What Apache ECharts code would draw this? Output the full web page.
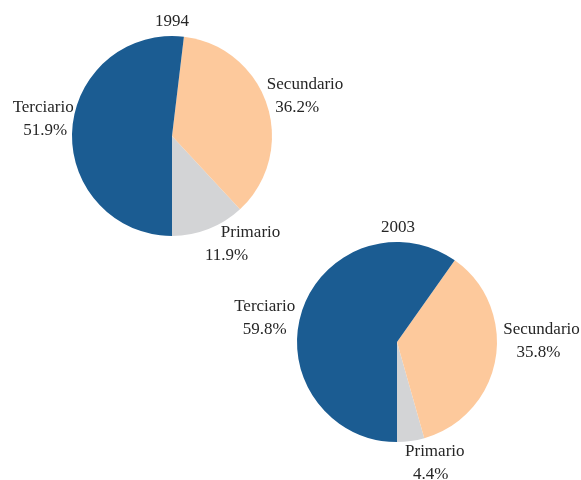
<!DOCTYPE html>
<html>
<head>
<meta charset="utf-8">
<script src="https://cdn.jsdelivr.net/npm/echarts@6/dist/echarts.min.js"></script>
<style>html,body{margin:0;padding:0;background:#fff;}#c{width:581px;height:480px;}</style>
</head>
<body>
<div id="c"></div>
<script>
var years = ['1994', '2003'];
var categories = ['Primario', 'Secundario', 'Terciario'];
var values1994 = [11.9, 36.2, 51.9];
var values2003 = [4.4, 35.8, 59.8];

var colors = {Primario: '#d3d4d6', Secundario: '#fdc99c', Terciario: '#1b5c92'};
var FONT = '"Liberation Serif", "Times New Roman", serif';
var TXT = '#262626';

// label offsets (layout tuning) per pie and category
var labelOffsets = [
  {Primario: [42, 15], Secundario: [38, -9], Terciario: [-29, -11]},
  {Primario: [24, 22], Secundario: [46, -18], Terciario: [-37, 6]}
];
// horizontal shift of the percentage line relative to the name line
var pctShift = [
  {Primario: -24, Secundario: -8, Terciario: 2},
  {Primario: -4, Secundario: -3, Terciario: 0}
];

function makeSeries(idx, values, center) {
  return {
    type: 'pie',
    center: center,
    radius: 100,
    startAngle: 270,
    clockwise: false,
    avoidLabelOverlap: false,
    animation: false,
    silent: true,
    data: categories.map(function (c, i) {
      var s = pctShift[idx][c];
      return {
        name: c,
        value: values[i],
        itemStyle: {color: colors[c]},
        label: {
          rich: {
            n: {fontFamily: FONT, fontSize: 17, color: TXT, lineHeight: 23, align: 'center'},
            p: {fontFamily: FONT, fontSize: 17, color: TXT, lineHeight: 23, align: 'center',
                padding: s < 0 ? [0, -2 * s, 0, 0] : [0, 0, 0, 2 * s]}
          }
        }
      };
    }),
    label: {
      show: true,
      position: 'outside',
      distanceToLabelLine: 0,
      fontFamily: FONT,
      fontSize: 17,
      color: TXT,
      formatter: function (p) {
        return '{n|' + p.name + '}\n{p|' + p.value.toFixed(1) + '%}';
      }
    },
    labelLine: {show: false, length: 0, length2: 0},
    labelLayout: function (p) {
      var o = labelOffsets[idx][categories[p.dataIndex]];
      return {dx: o[0], dy: o[1], align: 'center', verticalAlign: 'middle'};
    }
  };
}

var chart = echarts.init(document.getElementById('c'), null, {renderer: 'canvas'});
chart.setOption({
  backgroundColor: '#ffffff',
  title: [
    {text: years[0], left: 172, top: 13, textAlign: 'center', padding: 0,
     textStyle: {fontFamily: FONT, fontSize: 17, fontWeight: 'normal', color: TXT}},
    {text: years[1], left: 398, top: 219, textAlign: 'center', padding: 0,
     textStyle: {fontFamily: FONT, fontSize: 17, fontWeight: 'normal', color: TXT}}
  ],
  series: [
    makeSeries(0, values1994, [172, 136]),
    makeSeries(1, values2003, [397, 342])
  ]
});
</script>
</body>
</html>
